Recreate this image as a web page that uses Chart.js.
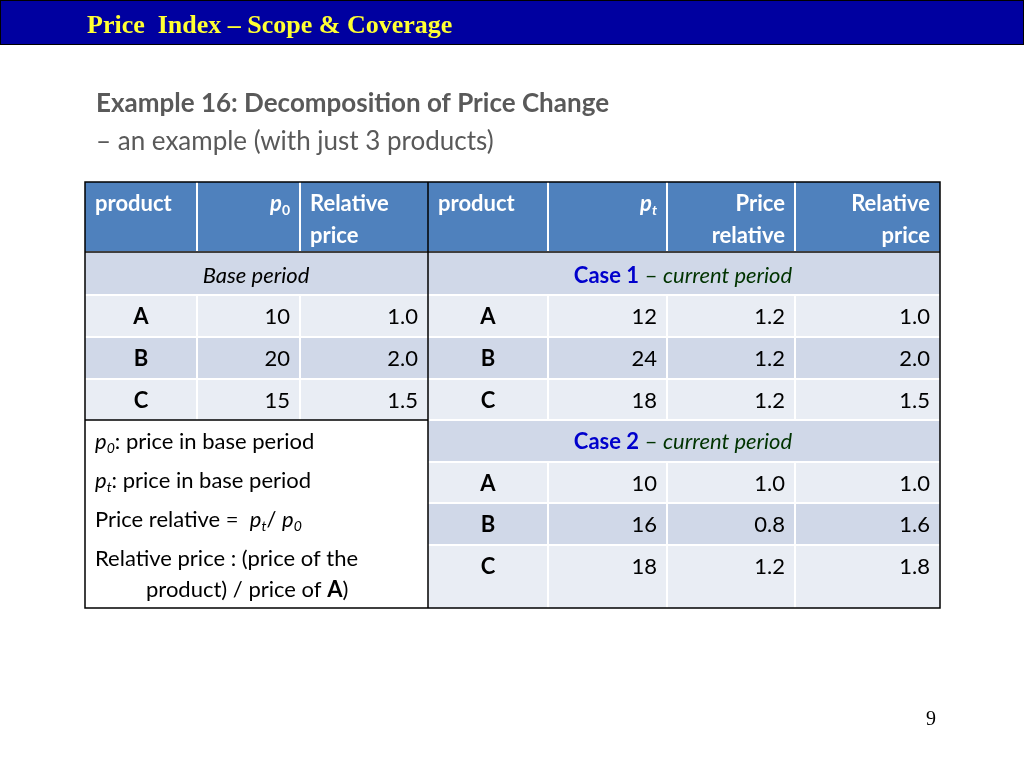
<!DOCTYPE html>
<html><head><meta charset="utf-8">
<script src="https://cdn.jsdelivr.net/npm/chart.js@4/dist/chart.umd.min.js"></script>
<style>body{margin:0;background:#fff}canvas{display:block}</style>
</head><body>
<canvas id="slide" width="1024" height="768"></canvas>
<script>
// table data
const products = ['A', 'B', 'C'];
const basePrices = [10, 20, 15];
const baseRelative = ['1.0', '2.0', '1.5'];
const case1Prices = [12, 24, 18];
const case1PriceRel = ['1.2', '1.2', '1.2'];
const case1Relative = ['1.0', '2.0', '1.5'];
const case2Prices = [10, 16, 18];
const case2PriceRel = ['1.0', '0.8', '1.2'];
const case2Relative = ['1.0', '1.6', '1.8'];

// grid lines of the table in slide units
const colEdges = [85, 197, 300, 428, 548, 667, 795, 940];
const rowEdges = [182, 252, 295, 337, 379, 420, 462, 503, 545, 608];

const BODY = 'Lato, "Open Sans", sans-serif';

function runs(ctx, x, y, parts, align) {
    // parts: [text, font, color, dy]
    let w = 0;
    parts.forEach(p => { ctx.font = p[1]; w += ctx.measureText(p[0]).width; });
    let cx = align === 'right' ? x - w : align === 'center' ? x - w / 2 : x;
    parts.forEach(p => {
        ctx.font = p[1];
        ctx.fillStyle = p[2];
        ctx.fillText(p[0], cx, y + (p[3] || 0));
        cx += ctx.measureText(p[0]).width;
    });
}

const tablePlugin = {
    id: 'table',
    afterDraw(chart) {
        const ctx = chart.ctx;
        const sx = chart.scales.x, sy = chart.scales.y;
        const X = v => sx.getPixelForValue(v), Y = v => sy.getPixelForValue(v);
        ctx.save();
        ctx.textBaseline = 'alphabetic';

        // header bar
        ctx.fillStyle = '#0000A0';
        ctx.fillRect(X(0), Y(0), X(1024) - X(0), Y(44) - Y(0));
        ctx.strokeStyle = '#000';
        ctx.lineWidth = 1;
        ctx.strokeRect(X(0) + 0.5, Y(0) + 0.5, X(1024) - X(0) - 1, Y(44) - Y(0));
        ctx.font = 'bold 26px "Liberation Serif", serif';
        ctx.fillStyle = '#FFFF33';
        ctx.fillText('Price  Index \u2013 Scope & Coverage', X(87), Y(33));

        // subtitle
        ctx.fillStyle = '#595959';
        ctx.font = 'bold 26px ' + BODY;
        ctx.fillText('Example 16: Decomposition of Price Change', X(96), Y(112));
        ctx.font = '26px ' + BODY;
        ctx.fillText('\u2013 an example (with just 3 products)', X(96), Y(150));

        const cell = (c0, c1, r0, r1, color) => {
            ctx.fillStyle = color;
            ctx.fillRect(X(colEdges[c0]), Y(rowEdges[r0]), X(colEdges[c1]) - X(colEdges[c0]), Y(rowEdges[r1]) - Y(rowEdges[r0]));
        };
        // header row
        cell(0, 7, 0, 1, '#4F81BD');
        // band rows
        cell(0, 3, 1, 2, '#D0D8E8');
        cell(3, 7, 1, 2, '#D0D8E8');
        cell(3, 7, 5, 6, '#D0D8E8');
        const shades = ['#E9EDF4', '#D0D8E8', '#E9EDF4'];
        products.forEach((p, i) => {
            cell(0, 7, 2 + i, 3 + i, shades[i]);
            cell(3, 7, 6 + i, 7 + i, shades[i]);
        });
        cell(0, 3, 5, 9, '#FFFFFF');

        // white separators
        ctx.strokeStyle = '#FFFFFF';
        ctx.lineWidth = 2;
        ctx.beginPath();
        for (let r = 1; r <= 8; r++) {
            const x0 = r >= 5 ? colEdges[3] : colEdges[0];
            ctx.moveTo(X(x0), Y(rowEdges[r])); ctx.lineTo(X(940), Y(rowEdges[r]));
        }
        for (let c = 1; c < 7; c++) {
            if (c === 3) continue;
            const segs = c < 3 ? [[0, 1], [2, 5]] : [[0, 1], [2, 5], [6, 9]];
            segs.forEach(s => { ctx.moveTo(X(colEdges[c]), Y(rowEdges[s[0]])); ctx.lineTo(X(colEdges[c]), Y(rowEdges[s[1]])); });
        }
        ctx.stroke();

        // dark border lines
        ctx.strokeStyle = '#000';
        ctx.lineWidth = 1.5;
        ctx.beginPath();
        ctx.rect(X(85), Y(182), X(940) - X(85), Y(608) - Y(182));
        ctx.moveTo(X(428), Y(182)); ctx.lineTo(X(428), Y(608));
        ctx.moveTo(X(85), Y(252)); ctx.lineTo(X(940), Y(252));
        ctx.moveTo(X(85), Y(420)); ctx.lineTo(X(428), Y(420));
        ctx.stroke();

        const W = '#FFFFFF', K = '#000000';
        const hb = 'bold 22px ' + BODY, hbi = 'italic bold 22px ' + BODY, hs = 'bold 14px ' + BODY, hsi = 'italic bold 14px ' + BODY;
        // header text
        runs(ctx, X(95), Y(211), [['product', hb, W]]);
        runs(ctx, X(290), Y(211), [['p', hbi, W], ['0', hs, W, 4]], 'right');
        runs(ctx, X(310), Y(211), [['Relative', hb, W]]);
        runs(ctx, X(310), Y(243), [['price', hb, W]]);
        runs(ctx, X(438), Y(211), [['product', hb, W]]);
        runs(ctx, X(657), Y(211), [['p', hbi, W], ['t', hsi, W, 4]], 'right');
        runs(ctx, X(785), Y(211), [['Price', hb, W]], 'right');
        runs(ctx, X(785), Y(243), [['relative', hb, W]], 'right');
        runs(ctx, X(930), Y(211), [['Relative', hb, W]], 'right');
        runs(ctx, X(930), Y(243), [['price', hb, W]], 'right');

        const n = '22px ' + BODY, it = 'italic 22px ' + BODY, b = 'bold 22px ' + BODY;
        runs(ctx, X(256), Y(283), [['Base period', it, K]], 'center');
        runs(ctx, X(683), Y(283), [['Case 1', b, '#0000CC'], [' \u2013 ', n, '#003300'], ['current period', it, '#003300']], 'center');
        runs(ctx, X(683), Y(449), [['Case 2', b, '#0000CC'], [' \u2013 ', n, '#003300'], ['current period', it, '#003300']], 'center');

        const rowText = (r, cols, vals) => {
            const y = Y((rowEdges[r] + rowEdges[r + 1]) / 2 + 8);
            cols.forEach((c, k) => {
                if (k === 0) runs(ctx, X((colEdges[c] + colEdges[c + 1]) / 2), y, [[String(vals[k]), b, K]], 'center');
                else runs(ctx, X(colEdges[c + 1] - 10), y, [[String(vals[k]), n, K]], 'right');
            });
        };
        products.forEach((p, i) => {
            rowText(2 + i, [0, 1, 2], [p, basePrices[i], baseRelative[i]]);
            rowText(2 + i, [3, 4, 5, 6], [p, case1Prices[i], case1PriceRel[i], case1Relative[i]]);
            const yy = i === 2 ? Y(574) : null;
            if (yy) {
                runs(ctx, X(488), yy, [[p, b, K]], 'center');
                runs(ctx, X(657), yy, [[String(case2Prices[i]), n, K]], 'right');
                runs(ctx, X(785), yy, [[case2PriceRel[i], n, K]], 'right');
                runs(ctx, X(930), yy, [[case2Relative[i], n, K]], 'right');
            } else {
                rowText(6 + i, [3, 4, 5, 6], [p, case2Prices[i], case2PriceRel[i], case2Relative[i]]);
            }
        });

        // legend notes
        const ni = 'italic 22px ' + BODY, si = 'italic 14px ' + BODY;
        runs(ctx, X(95), Y(449), [['p', ni, K], ['0', si, K, 4], [': price in base period', n, K]]);
        runs(ctx, X(95), Y(488), [['p', ni, K], ['t', si, K, 4], [': price in base period', n, K]]);
        runs(ctx, X(95), Y(527), [['Price relative =  ', n, K], ['p', ni, K], ['t', si, K, 4], ['/ ', n, K], ['p', ni, K], ['0', si, K, 4]]);
        runs(ctx, X(95), Y(566), [['Relative price : (price of the', n, K]]);
        runs(ctx, X(146), Y(597), [['product) / price of ', n, K], ['A', b, K], [')', n, K]]);

        // page number
        ctx.font = '20px "Liberation Serif", serif';
        ctx.fillStyle = '#000';
        ctx.fillText('9', X(926), Y(725));
        ctx.restore();
    }
};

new Chart(document.getElementById('slide'), {
    type: 'scatter',
    data: { datasets: [{ data: [] }] },
    options: {
        responsive: false,
        animation: false,
        devicePixelRatio: 1,
        layout: { padding: 0 },
        plugins: { legend: { display: false }, tooltip: { enabled: false } },
        scales: {
            x: { type: 'linear', min: 0, max: 1024, display: false },
            y: { type: 'linear', min: 0, max: 768, reverse: true, display: false }
        }
    },
    plugins: [tablePlugin]
});
</script>
</body></html>
